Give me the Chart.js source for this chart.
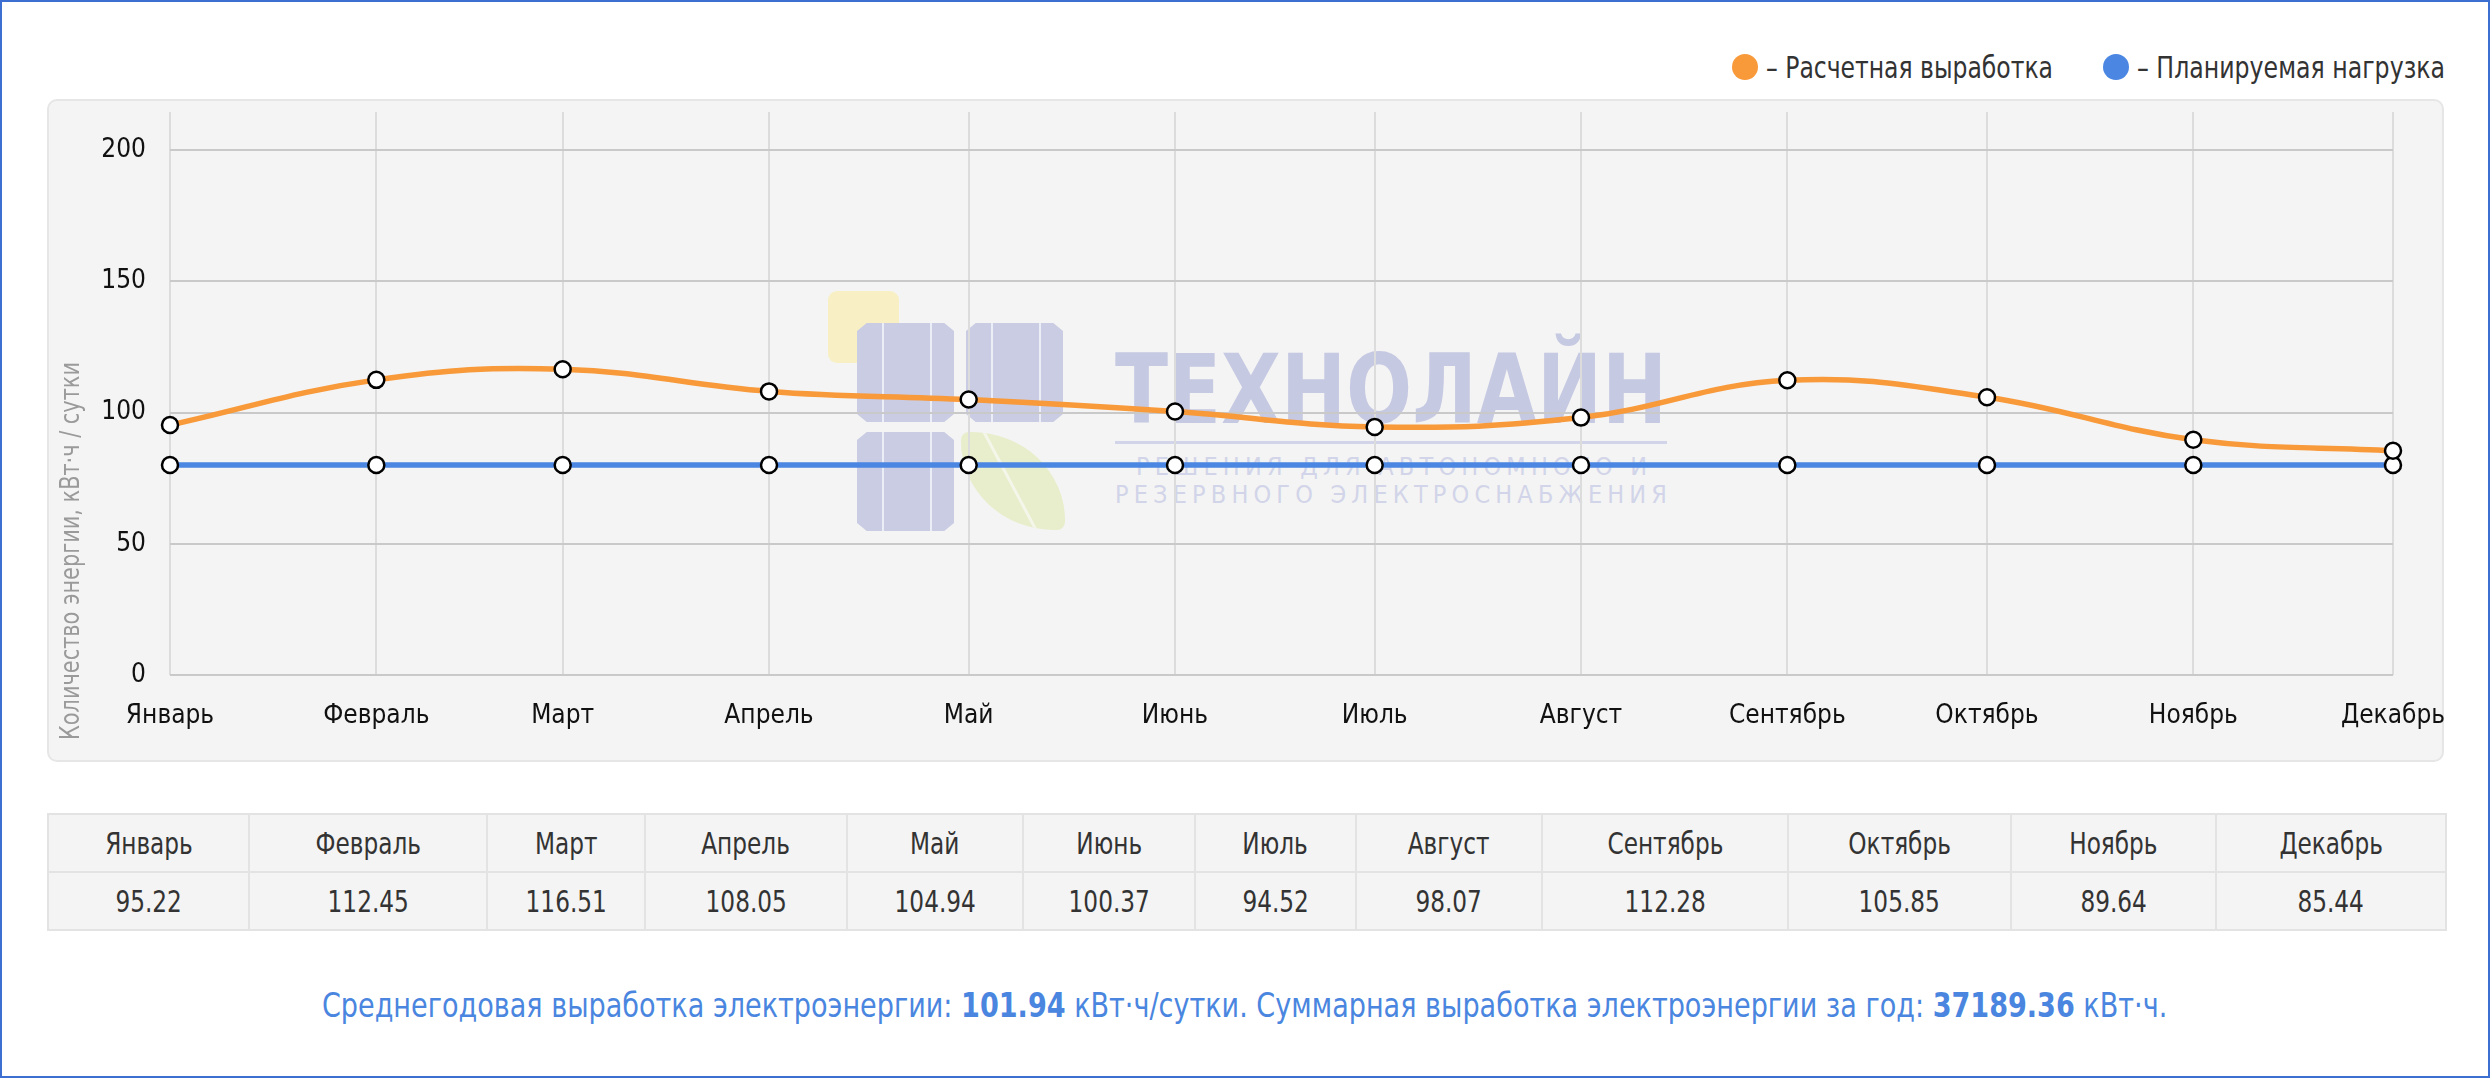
<!DOCTYPE html>
<html><head><meta charset="utf-8">
<script src="https://cdn.jsdelivr.net/npm/chart.js@4.4.1/dist/chart.umd.min.js"></script>
<style>
html,body{margin:0;padding:0;background:#fff;width:2490px;height:1078px;overflow:hidden;}
body{position:relative;font-family:'DejaVu Sans Condensed','DejaVu Sans',sans-serif;}
#frame{position:absolute;left:0;top:0;width:2490px;height:1078px;box-sizing:border-box;border:2px solid #3c6fd1;pointer-events:none;z-index:20;}
#legend{position:absolute;right:45px;top:48px;height:38px;display:flex;align-items:center;font-size:30px;color:#333;white-space:nowrap;}
.li{display:flex;align-items:center;margin-left:50px;}
.dot{width:26px;height:26px;border-radius:50%;margin-right:8px;flex:none;}
.cx{display:inline-block;white-space:nowrap;}
#panel{position:absolute;left:47px;top:99px;width:2397px;height:663px;box-sizing:border-box;background:#f4f4f4;border:2px solid #e6e6e6;border-radius:10px;z-index:1;}
.wm{position:absolute;z-index:2;}
.sp{background:linear-gradient(90deg,#c9cce3 0,#c9cce3 26%,#eceef7 26%,#eceef7 28%,#c9cce3 28%,#c9cce3 75%,#eceef7 75%,#eceef7 77%,#c9cce3 77%);clip-path:polygon(10% 0,90% 0,100% 8%,100% 92%,90% 100%,10% 100%,0 92%,0 8%);}
.wmt{white-space:nowrap;line-height:1;transform-origin:0 0;}
#chartWrap{position:absolute;left:47px;top:99px;width:2397px;height:663px;z-index:3;}
#tbl{position:absolute;left:47px;top:813px;width:2397px;border-collapse:collapse;table-layout:fixed;background:#f4f4f4;color:#333;font-size:30px;}
#tbl td{border:2px solid #e3e3e3;text-align:center;height:56px;padding:0;}
#tbl td .cx{transform:scaleX(0.86);}
#footer{position:absolute;left:0;width:2490px;top:985px;text-align:center;color:#4a86e0;font-size:34px;white-space:nowrap;}
#footer .cx{transform:scaleX(0.885);transform-origin:50% 50%;}
#footer b{font-weight:bold;}
</style></head>
<body>
<div id="frame"></div>
<div id="legend"></div>
<div id="panel"></div>
<div class="wm" style="left:828px;top:291px;width:71px;height:72px;background:#f8f0c4;border-radius:9px;"></div>
<div class="wm sp" style="left:857px;top:323px;width:97px;height:99px;"></div>
<div class="wm sp" style="left:966px;top:323px;width:97px;height:99px;"></div>
<div class="wm sp" style="left:857px;top:432px;width:97px;height:99px;"></div>
<div class="wm" style="left:961px;top:432px;width:104px;height:98px;background:#e8eecb;border-radius:8px 90% 8px 90%;overflow:hidden;"><div style="position:absolute;left:48px;top:-10px;width:3px;height:120px;background:#f4f6ea;transform:rotate(-28deg);"></div></div>
<div class="wm wmt" id="wmTitle" style="left:1115px;top:341px;font-family:'DejaVu Sans';font-weight:bold;font-size:97px;color:#c6c9e2;">ТЕХНОЛАЙН</div>
<div class="wm" style="left:1115px;top:441px;width:552px;height:3px;background:#d2d4e9;"></div>
<div class="wm wmt" id="wmSub1" style="left:1136px;top:454px;font-family:'DejaVu Sans Condensed','DejaVu Sans';font-size:25px;color:#d2d4e9;">РЕШЕНИЯ ДЛЯ АВТОНОМНОГО И</div>
<div class="wm wmt" id="wmSub2" style="left:1115px;top:482px;font-family:'DejaVu Sans Condensed','DejaVu Sans';font-size:25px;color:#d2d4e9;">РЕЗЕРВНОГО ЭЛЕКТРОСНАБЖЕНИЯ</div>
<div id="chartWrap"><canvas id="c"></canvas></div>
<table id="tbl"><colgroup id="cols"></colgroup><tr id="rowM"></tr><tr id="rowV"></tr></table>
<div id="footer"></div>
<script>
// ---- data ----
const months = ['Январь','Февраль','Март','Апрель','Май','Июнь','Июль','Август','Сентябрь','Октябрь','Ноябрь','Декабрь'];
const monthStartDay = [0,31,59,90,120,151,181,212,243,273,304,334];
const production = [95.22,112.45,116.51,108.05,104.94,100.37,94.52,98.07,112.28,105.85,89.64,85.44];
const plannedLoad = [80,80,80,80,80,80,80,80,80,80,80,80];
const yTicks = [0,50,100,150,200];
const seriesNames = ['Расчетная выработка','Планируемая нагрузка'];
const avgDaily = '101.94';
const yearTotal = '37189.36';
const yTitle = 'Количество энергии, кВт·ч / сутки';

// ---- styles ----
const FONT = "'DejaVu Sans Condensed','DejaVu Sans',sans-serif";
const colors = ['#f8993a','#4a86e2'];
const colWidths = [201,238,158,202,176,172,161,186,246,223,205,230];
const legendTextW = [287,308];

// legend
const lg = document.getElementById('legend');
seriesNames.forEach((n,i)=>{
  const d=document.createElement('div');d.className='li';
  d.innerHTML='<span class="dot" style="background:'+colors[i]+'"></span><span class="cx">– '+n+'</span>';
  lg.appendChild(d);
  const t=d.querySelector('.cx');const w=t.getBoundingClientRect().width;const k=legendTextW[i]/w;
  t.style.transformOrigin='0 50%';t.style.transform='scaleX('+k+')';t.style.marginRight=(legendTextW[i]-w)+'px';
});
// table
const cols=document.getElementById('cols'), rm=document.getElementById('rowM'), rv=document.getElementById('rowV');
months.forEach((m,i)=>{
  const c=document.createElement('col');c.style.width=colWidths[i]+'px';cols.appendChild(c);
  const a=document.createElement('td');a.innerHTML='<span class="cx">'+m+'</span>';rm.appendChild(a);
  const b=document.createElement('td');b.innerHTML='<span class="cx">'+production[i].toFixed(2)+'</span>';rv.appendChild(b);
});
document.getElementById('footer').innerHTML='<span class="cx">Среднегодовая выработка электроэнергии: <b>'+avgDaily+'</b> кВт·ч/сутки. Суммарная выработка электроэнергии за год: <b>'+yearTotal+'</b> кВт·ч.</span>';

// watermark text fitting
function fitScale(id,w){const e=document.getElementById(id);const s=w/e.getBoundingClientRect().width;e.style.transform='scaleX('+s+')';}
function fitSpacing(id,w){const e=document.getElementById(id);const n=e.textContent.length;const nat=e.getBoundingClientRect().width;e.style.letterSpacing=((w-nat)/(n-1))+'px';}
fitScale('wmTitle',552);
fitSpacing('wmSub1',511);
fitSpacing('wmSub2',552);

const yTitlePlugin={id:'yTitle',afterDraw(chart){
  const ctx=chart.ctx;ctx.save();ctx.font='26px '+FONT;
  const w=ctx.measureText(yTitle).width;const k=378/w;
  ctx.translate(25,641);ctx.rotate(-Math.PI/2);ctx.scale(k,1);
  ctx.fillStyle='#9a9a9a';ctx.textAlign='left';ctx.textBaseline='middle';ctx.fillText(yTitle,0,0);ctx.restore();}};

const mk=(arr)=>arr.map((v,i)=>({x:monthStartDay[i],y:v}));
const ds=(i,arr)=>({label:seriesNames[i],data:mk(arr),borderColor:colors[i],backgroundColor:colors[i],borderWidth:5.5,tension:0.4,
  pointRadius:8,pointBackgroundColor:'#fff',pointBorderColor:'#000',pointBorderWidth:2.5,clip:false});
new Chart(document.getElementById('c'),{
  type:'line',
  data:{datasets:[ds(0,production),ds(1,plannedLoad)]},
  options:{
    responsive:true,maintainAspectRatio:false,animation:false,
    layout:{padding:{top:13,right:51,left:0,bottom:0}},
    plugins:{legend:{display:false},tooltip:{enabled:false}},
    scales:{
      x:{type:'linear',min:monthStartDay[0],max:monthStartDay[monthStartDay.length-1],
        afterBuildTicks:s=>{s.ticks=monthStartDay.map(v=>({value:v}));},
        afterFit:s=>{s.height=87;s.paddingLeft=0;s.paddingRight=0;},
        border:{display:false},
        grid:{color:'#dcdcdc',lineWidth:2,drawTicks:false,tickLength:0},
        ticks:{autoSkip:false,maxRotation:0,padding:26,color:'#111',font:{family:FONT,size:26},
          callback:v=>months[monthStartDay.indexOf(v)]}},
      y:{min:0,max:214.5,
        afterBuildTicks:s=>{s.ticks=yTicks.map(v=>({value:v}));},
        afterFit:s=>{s.width=123;s.paddingTop=0;s.paddingBottom=0;},
        border:{display:false},
        grid:{color:'#c9c9c9',lineWidth:2,drawTicks:false,tickLength:0},
        ticks:{padding:24,color:'#111',font:{family:FONT,size:26}}}
    }
  },
  plugins:[yTitlePlugin]
});
</script>
</body></html>
